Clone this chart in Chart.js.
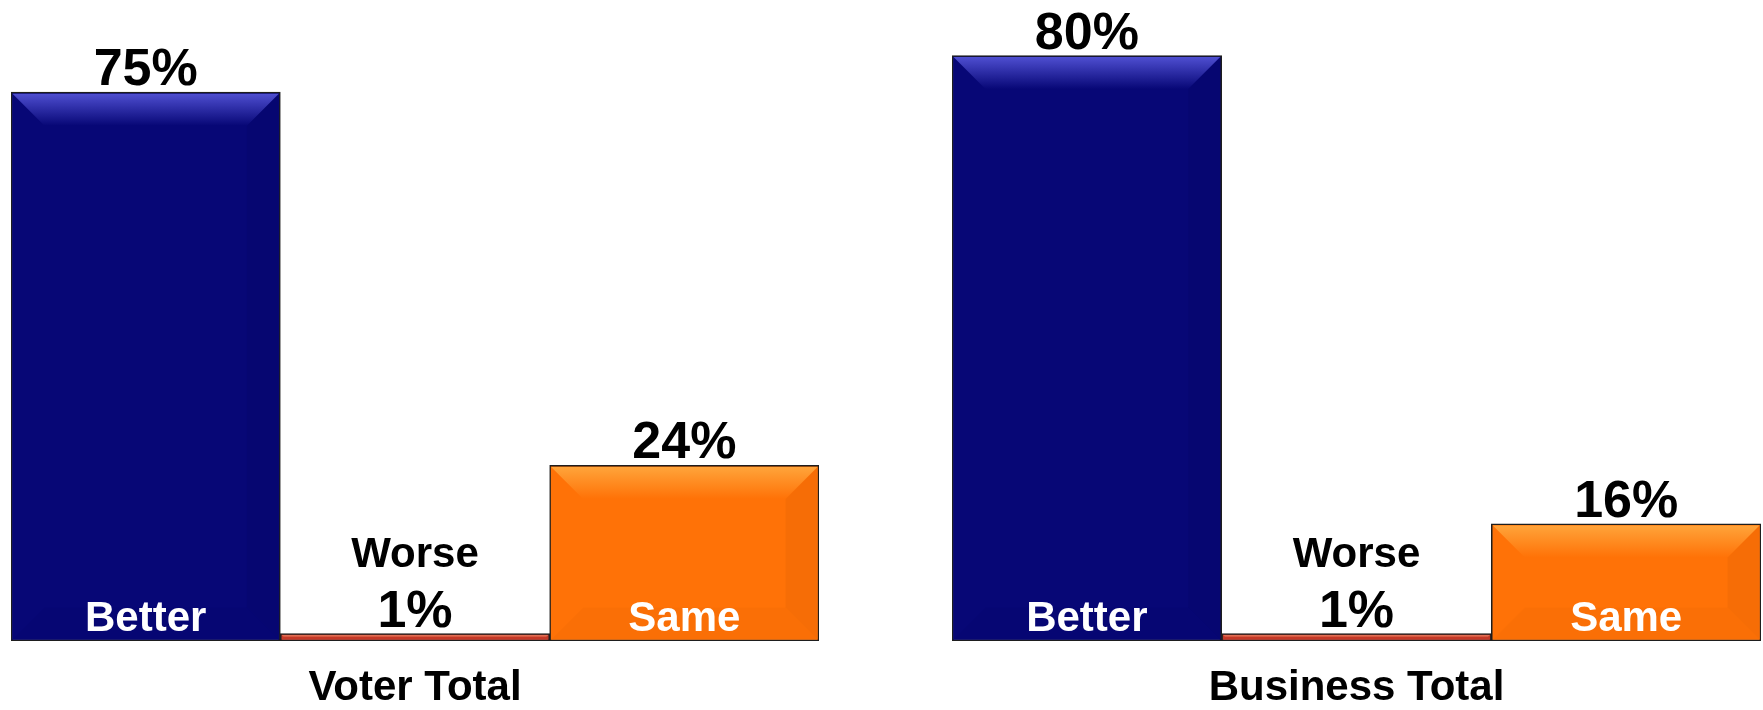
<!DOCTYPE html>
<html>
<head>
<meta charset="utf-8">
<script src="https://cdn.jsdelivr.net/npm/chart.js@4"></script>
<style>
  html, body { margin: 0; padding: 0; background: #fff; }
  #wrap { position: relative; width: 1763px; height: 710px; }
  canvas { position: absolute; top: 0; }
</style>
</head>
<body>
<div id="wrap">
  <canvas id="voterChart" width="880" height="710" style="left:0"></canvas>
  <canvas id="businessChart" width="883" height="710" style="left:880px"></canvas>
</div>
<script>
// ─── DATA ───
const CATEGORIES = ['Better', 'Worse', 'Same'];
const VOTER_TOTAL = [75, 1, 24];
const BUSINESS_TOTAL = [80, 1, 16];
const PANEL_TITLES = ['Voter Total', 'Business Total'];

// bar colours: body + top highlight
const BODY = ['#070776', '#c83a28', '#ff7207'];
const LIGHT = ['#4e4ed0', '#f08a6a', '#ffa43a'];
const FONT = '"Liberation Sans", Arial, sans-serif';

// ── bevel look + labels ──
const bevelPlugin = {
  id: 'bevel',
  afterDatasetsDraw(chart) {
    const ctx = chart.ctx;
    const meta = chart.getDatasetMeta(0);
    const values = chart.data.datasets[0].data;
    meta.data.forEach((bar, i) => {
      const { x, y, base, width } = bar.getProps(['x', 'y', 'base', 'width'], true);
      const l = x - width / 2 + 1.5, r = x + width / 2 - 1.5, t = y + 1.5, btm = base - 1.5;
      const h = btm - t, w = r - l;
      const b = Math.min(32, h / 2, w / 2);
      ctx.save();
      // top bevel
      const g = ctx.createLinearGradient(0, t, 0, t + b);
      g.addColorStop(0, LIGHT[i]);
      g.addColorStop(1, BODY[i]);
      ctx.fillStyle = g;
      ctx.beginPath();
      ctx.moveTo(l, t); ctx.lineTo(r, t); ctx.lineTo(r - b, t + b); ctx.lineTo(l + b, t + b);
      ctx.closePath(); ctx.fill();
      // right side slightly darker
      ctx.fillStyle = 'rgba(0,0,0,0.035)';
      ctx.beginPath();
      ctx.moveTo(r, t); ctx.lineTo(r, btm); ctx.lineTo(r - b, btm - b); ctx.lineTo(r - b, t + b);
      ctx.closePath(); ctx.fill();
      // bottom faint
      ctx.fillStyle = 'rgba(0,0,0,0.02)';
      ctx.beginPath();
      ctx.moveTo(l, btm); ctx.lineTo(l + b, btm - b); ctx.lineTo(r - b, btm - b); ctx.lineTo(r, btm);
      ctx.closePath(); ctx.fill();

      // value label on top
      ctx.textAlign = 'center';
      ctx.textBaseline = 'alphabetic';
      ctx.fillStyle = '#000';
      ctx.font = `bold 52px ${FONT}`;
      const vy = y - 7;
      ctx.fillText(values[i] + '%', x, vy);
      // category label
      ctx.font = `bold 42px ${FONT}`;
      if (h > 80) {
        ctx.fillStyle = '#fff';
        ctx.fillText(CATEGORIES[i], x, base - 10);
      } else {
        ctx.fillStyle = '#000';
        ctx.fillText(CATEGORIES[i], x, vy - 60);
      }
      ctx.restore();
    });
  },
};

function renderPanel(id, data, title, padL, padR) {
  const ctx = document.getElementById(id).getContext('2d');
  return new Chart(ctx, {
    type: 'bar',
    data: {
      labels: CATEGORIES,
      datasets: [{
        data,
        backgroundColor: BODY,
        borderColor: '#1e1e1e',
        borderWidth: 1.5,
        borderSkipped: false,
        categoryPercentage: 1,
        barPercentage: 1,
      }],
    },
    options: {
      responsive: false, animation: false,
      layout: { padding: { left: padL, right: padR, top: 19, bottom: 1 } },
      plugins: { legend: { display: false }, tooltip: { enabled: false } },
      scales: {
        x: {
          grid: { display: false, drawTicks: false },
          border: { display: false },
          ticks: { display: false },
          title: {
            display: true, text: title, color: '#000',
            font: { family: FONT, size: 42, weight: 'bold', lineHeight: 1 },
            padding: { top: 26, bottom: 0 },
          },
        },
        y: { display: false, min: 0, max: 85 },
      },
    },
    plugins: [bevelPlugin],
  });
}

renderPanel('voterChart', VOTER_TOTAL, PANEL_TITLES[0], 11, 61);
renderPanel('businessChart', BUSINESS_TOTAL, PANEL_TITLES[1], 72, 2);
</script>
</body>
</html>
